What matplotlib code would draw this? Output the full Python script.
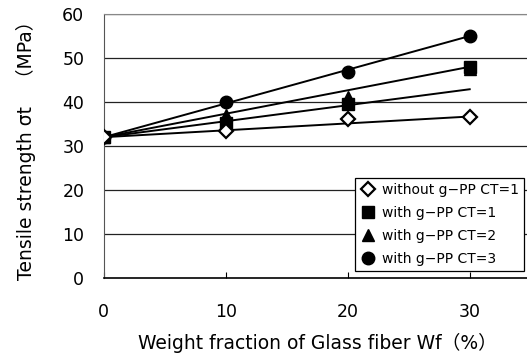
import matplotlib
matplotlib.use("Agg")
import matplotlib.pyplot as plt
import numpy as np

plt.rcParams['font.family'] = ['DejaVu Sans', 'Noto Sans CJK JP']

wf = [0, 10, 20, 30]
without_ct1 = [32, 33.5, 36.2, 36.7]
with_ct1 = [32, 35.3, 39.5, 48.0]
with_ct2 = [32, 37.0, 41.2, 47.6]
with_ct3 = [32, 40.1, 46.8, 55.0]

trend_x = [0, 30]
trend_without_ct1 = [32, 36.7]
trend_ct1 = [32, 48.0]
trend_ct2 = [32, 42.9]
trend_ct3 = [32, 55.0]

labels = ["without g\u2212PP CT=1", "with g\u2212PP CT=1", "with g\u2212PP CT=2", "with g\u2212PP CT=3"]
xticks = [0, 10, 20, 30]
yticks = [0, 10, 20, 30, 40, 50, 60]

fig = plt.figure(figsize=(5.27, 3.6), dpi=100)
ax = fig.add_axes([0.197, 0.228, 0.81, 0.733])

for yv in yticks[1:]:
    ax.axhline(yv, color='#222222', lw=0.9, zorder=1)

for ty in [trend_without_ct1, trend_ct1, trend_ct2, trend_ct3]:
    ax.plot(trend_x, ty, color='black', lw=1.4, zorder=2)

ax.plot(wf, without_ct1, ls='none', marker='D', ms=7, mfc='white', mec='black', mew=1.6, zorder=5, label=labels[0])
ax.plot(wf, with_ct1, ls='none', marker='s', ms=8, color='black', zorder=3, label=labels[1])
ax.plot(wf, with_ct2, ls='none', marker='^', ms=9, color='black', zorder=4, label=labels[2])
ax.plot(wf, with_ct3, ls='none', marker='o', ms=9, color='black', zorder=4, label=labels[3])

ax.set_xlim(0, 35)
ax.set_ylim(0, 60)
ax.set_xticks(xticks)
ax.set_yticks(yticks)
ax.tick_params(axis='x', direction='in', length=4, labelsize=12.5, pad=18)
ax.tick_params(axis='y', length=0, labelsize=12.5, pad=14)
ax.spines['right'].set_visible(False)
ax.spines['top'].set_color('#888888')
ax.spines['left'].set_color('#555555')
ax.spines['bottom'].set_color('black')
ax.spines['bottom'].set_linewidth(1.2)

ax.set_xlabel("Weight fraction of Glass fiber Wf（%）", fontsize=13.5, labelpad=9)
ax.set_ylabel("Tensile strength σt\u3000（MPa）", fontsize=13.5, labelpad=19)

leg = ax.legend(loc='upper left', bbox_to_anchor=(355/527, 1-178/360), bbox_transform=fig.transFigure,
                fontsize=10, frameon=True, fancybox=False, edgecolor='black', framealpha=1,
                handletextpad=0.4, labelspacing=0.65, borderpad=0.35, handlelength=1.2, borderaxespad=0)
leg.get_frame().set_linewidth(0.9)
leg.set_zorder(10)

fig.savefig("out.png", dpi=100)
